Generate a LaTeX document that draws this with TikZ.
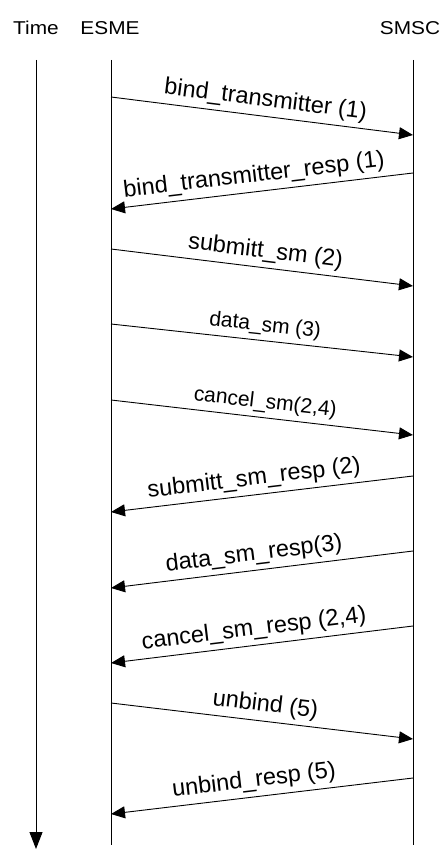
\documentclass[tikz,border=0pt]{standalone}
\usepackage{fontspec}
\setmainfont{Liberation Sans}
\newfontfamily\headfont[FakeStretch=1.12]{Liberation Sans}
\usetikzlibrary{arrows.meta}

\begin{document}
\begin{tikzpicture}[x=1pt,y=-1pt,
  lifeline/.style={line width=1pt},
  msg/.style={line width=0.9pt,-{Triangle[length=14pt,width=12pt]}},
  head/.style={font=\headfont\fontsize{18.6}{22}\selectfont, inner sep=0pt, anchor=base},
  lbl/.style={font=\fontsize{23.5}{27}\selectfont, sloped, above, inner xsep=0pt, inner ysep=4.5pt},
  lblsmall/.style={lbl, font=\fontsize{21}{25}\selectfont},
]
\useasboundingbox (0,0) rectangle (444,850);

% column headers
\node[head] (time) at (36,35) {Time};
\node[head] (esme) at (110,35) {ESME};
\node[head] (smsc) at (410,35) {SMSC};

% lifelines
\coordinate (t0) at (36,60);
\coordinate (t1) at (36,849);
\coordinate (e0) at (111,60);
\coordinate (e1) at (111,845);
\coordinate (s0) at (413,60);
\coordinate (s1) at (413,845);
\draw[lifeline,-{Triangle[length=17pt,width=13pt]}] (t0) -- (t1);
\draw[lifeline] (e0) -- (e1);
\draw[lifeline] (s0) -- (s1);

% message end points on the lifelines
\foreach \n/\y in {1/97,3/249,4/324,5/400,9/703}
  \coordinate (ea\n) at (111,\y);
\foreach \n/\y in {1/135,3/286,4/357,5/435,9/739}
  \coordinate (sb\n) at (413,\y);
\foreach \n/\y in {2/173,6/476,7/551,8/626,10/778}
  \coordinate (sa\n) at (413,\y);
\foreach \n/\y in {2/209,6/512,7/588,8/663,10/814}
  \coordinate (eb\n) at (111,\y);

% messages
\draw[msg] (ea1) -- (sb1) node[lbl,pos=0.505] {bind\_transmitter (1)};
\draw[msg] (sa2) -- (eb2) node[lbl,pos=0.52] {bind\_transmitter\_resp (1)};
\draw[msg] (ea3) -- (sb3) node[lbl,pos=0.505] {submitt\_sm (2)};
\draw[msg] (ea4) -- (sb4) node[lblsmall,pos=0.505] {data\_sm (3)};
\draw[msg] (ea5) -- (sb5) node[lblsmall,pos=0.505] {cancel\_sm(2,4)};
\draw[msg] (sa6) -- (eb6) node[lbl,pos=0.52] {submitt\_sm\_resp (2)};
\draw[msg] (sa7) -- (eb7) node[lbl,pos=0.52] {data\_sm\_resp(3)};
\draw[msg] (sa8) -- (eb8) node[lbl,pos=0.52] {cancel\_sm\_resp (2,4)};
\draw[msg] (ea9) -- (sb9) node[lbl,pos=0.505] {unbind (5)};
\draw[msg] (sa10) -- (eb10) node[lbl,pos=0.52] {unbind\_resp (5)};
\end{tikzpicture}
\end{document}
